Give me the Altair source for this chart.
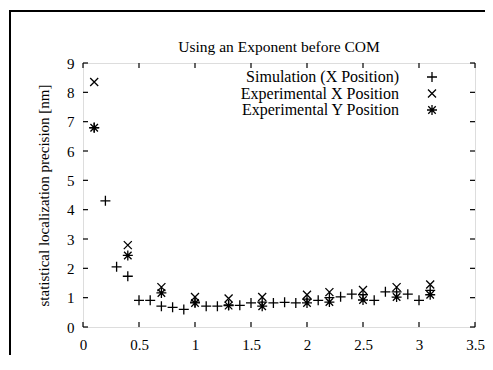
import altair as alt
import pandas as pd

# ---- data ----
sim_x = [0.1, 0.2, 0.3, 0.4, 0.5, 0.6, 0.7, 0.8, 0.9, 1.0, 1.1, 1.2, 1.3, 1.4, 1.5, 1.6,
         1.7, 1.8, 1.9, 2.0, 2.1, 2.2, 2.3, 2.4, 2.5, 2.6, 2.7, 2.8, 2.9, 3.0, 3.1]
sim_y = [6.8, 4.3, 2.05, 1.73, 0.91, 0.91, 0.71, 0.67, 0.6, 0.85, 0.71, 0.71, 0.75, 0.74, 0.82, 0.85,
         0.82, 0.84, 0.82, 0.95, 0.91, 1.0, 1.03, 1.12, 1.1, 0.91, 1.2, 1.2, 1.12, 0.91, 1.25]
exp_x = [0.1, 0.4, 0.7, 1.0, 1.3, 1.6, 2.0, 2.2, 2.5, 2.8, 3.1]
expX_y = [8.35, 2.79, 1.36, 1.02, 0.97, 1.02, 1.1, 1.19, 1.26, 1.36, 1.45]
expY_y = [6.79, 2.44, 1.16, 0.82, 0.73, 0.71, 0.82, 0.85, 0.92, 1.02, 1.1]

series = ["Simulation (X Position)", "Experimental X Position", "Experimental Y Position"]
x_ticks = [0, 0.5, 1, 1.5, 2, 2.5, 3, 3.5]
y_ticks = [0, 1, 2, 3, 4, 5, 6, 7, 8, 9]

W, H = 392, 264
XMAX, YMAX = 3.5, 9
TICK_PX = 5

rows = []
for x, y in zip(sim_x, sim_y):
    rows.append({"x": x, "y": y, "s": series[0]})
for x, y in zip(exp_x, expX_y):
    rows.append({"x": x, "y": y, "s": series[1]})
for x, y in zip(exp_x, expY_y):
    rows.append({"x": x, "y": y, "s": series[2]})
df = pd.DataFrame(rows)

# inward ticks on all four sides
tx = TICK_PX * XMAX / W
ty = TICK_PX * YMAX / H
tick_rows = []
for v in x_ticks:
    tick_rows.append({"x": v, "x2": v, "y": 0, "y2": ty})
    tick_rows.append({"x": v, "x2": v, "y": YMAX - ty, "y2": YMAX})
for v in y_ticks:
    tick_rows.append({"x": 0, "x2": tx, "y": v, "y2": v})
    tick_rows.append({"x": XMAX - tx, "x2": XMAX, "y": v, "y2": v})
ticks_df = pd.DataFrame(tick_rows)

FONT = "Liberation Serif"

xscale = alt.Scale(domain=[0, XMAX], nice=False, zero=False)
yscale = alt.Scale(domain=[0, YMAX], nice=False, zero=False)

xaxis = alt.Axis(values=x_ticks, title=None, ticks=False, domain=False, grid=False,
                 format="~g", labelOverlap=False,
                 labelPadding=10, labelFontSize=15, labelFont=FONT, labelColor="black",
                 labelFlush=False)
yaxis = alt.Axis(values=y_ticks, title="statistical localization precision [nm]",
                 format="~g", labelOverlap=False,
                 ticks=False, domain=False, grid=False, labelPadding=9, labelFontSize=15,
                 labelFont=FONT, labelColor="black", titleFont=FONT, titleFontSize=15,
                 titleFontWeight="normal", titleColor="black", titlePadding=15,
                 labelFlush=False)

paths = [
    "M-1,0H1M0,-1V1",
    "M-0.8,-0.8L0.8,0.8M-0.8,0.8L0.8,-0.8",
    "M-1,0H1M0,-1V1M-0.75,-0.75L0.75,0.75M-0.75,0.75L0.75,-0.75",
]
# legend glyphs: same glyphs, drawn to the right of their labels (gnuplot style)
D = 8.2
legend_paths = [
    f"M{D-1},0H{D+1}M{D},-1V1",
    f"M{D-0.8},-0.8L{D+0.8},0.8M{D-0.8},0.8L{D+0.8},-0.8",
    f"M{D-1},0H{D+1}M{D},-1V1M{D-0.75},-0.75L{D+0.75},0.75M{D-0.75},0.75L{D+0.75},-0.75",
]

points = alt.Chart(df).mark_point(filled=False, color="black", strokeWidth=1.3, size=100, opacity=1).encode(
    x=alt.X("x:Q", scale=xscale, axis=xaxis),
    y=alt.Y("y:Q", scale=yscale, axis=yaxis),
    shape=alt.Shape("s:N", scale=alt.Scale(domain=series, range=paths), legend=None),
)

legend_layer = alt.Chart(df).mark_point(filled=False, color="black", strokeWidth=1.3, size=100, opacity=0).encode(
    x=alt.X("x:Q", scale=xscale, axis=xaxis),
    y=alt.Y("y:Q", scale=yscale, axis=yaxis),
    shape=alt.Shape("s:N", scale=alt.Scale(domain=series, range=legend_paths),
                    legend=alt.Legend(title=None, orient="none", legendX=300, legendY=6,
                                      labelAlign="right", labelOffset=0,
                                      labelFont=FONT, labelFontSize=16, labelColor="black",
                                      symbolSize=100, symbolOpacity=1,
                                      symbolStrokeColor="black", symbolStrokeWidth=1.3,
                                      symbolFillColor="transparent", rowPadding=0.5, padding=0,
                                      labelLimit=300)),
)

tick_layer = alt.Chart(ticks_df).mark_rule(color="black", strokeWidth=1.2).encode(
    x=alt.X("x:Q", scale=xscale, axis=xaxis), x2="x2:Q",
    y=alt.Y("y:Q", scale=yscale, axis=yaxis), y2="y2:Q"
)

# outer figure frame (only its top and left sides fall inside the picture)
frame_top = alt.Chart(pd.DataFrame({"a": [0]})).mark_rule(color="black", strokeWidth=2).encode(
    x=alt.value(-73), x2=alt.value(W + 10), y=alt.value(-52)
)
frame_left = alt.Chart(pd.DataFrame({"a": [0]})).mark_rule(color="black", strokeWidth=2).encode(
    x=alt.value(-73), y=alt.value(-53), y2=alt.value(H + 28)
)

chart = alt.layer(points, legend_layer, tick_layer, frame_top, frame_left).resolve_scale(
    shape="independent"
).properties(
    width=W, height=H,
    title=alt.Title("Using an Exponent before COM", font=FONT, fontSize=15.5, fontWeight="normal",
                    color="black", anchor="middle", offset=-46, frame="group"),
    autosize=alt.AutoSizeParams(type="none"),
    padding={"left": 75, "top": 55, "right": 10, "bottom": 28},
).configure_view(stroke="black", strokeWidth=1.3).configure(background="white")

chart.save("out.html", embed_options={"renderer": "svg", "actions": False})
